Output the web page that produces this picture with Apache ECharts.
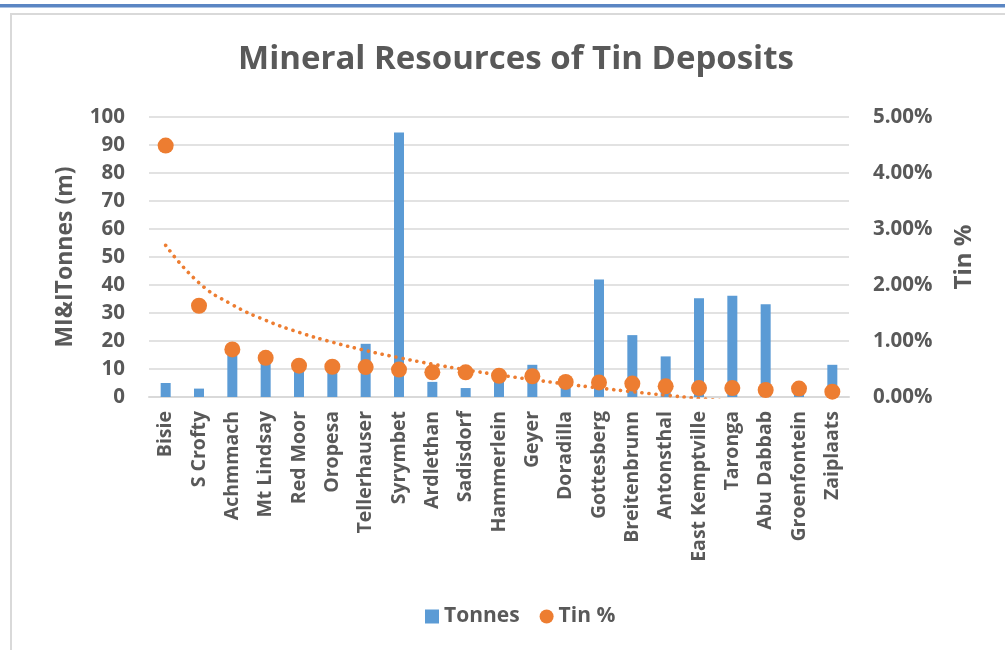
<!DOCTYPE html>
<html>
<head>
<meta charset="utf-8">
<script src="https://cdn.jsdelivr.net/npm/echarts@6/dist/echarts.min.js"></script>
<style>
html,body{margin:0;padding:0;background:#fff;}
#chart{width:1005px;height:650px;}
</style>
</head>
<body>
<div id="chart"></div>
<script>
const categories = ['Bisie','S Crofty','Achmmach','Mt Lindsay','Red Moor','Oropesa','Tellerhauser','Syrymbet','Ardlethan','Sadisdorf','Hammerlein','Geyer','Doradilla','Gottesberg','Breitenbrunn','Antonsthal','East Kemptville','Taronga','Abu Dabbab','Groenfontein','Zaiplaats'];
const tonnes = [5.0, 3.0, 15.0, 13.0, 10.5, 10.0, 19.0, 94.5, 5.4, 3.2, 7.0, 11.5, 5.0, 42.0, 22.1, 14.5, 35.3, 36.2, 33.1, 1.5, 11.5];
const tinPct = [4.49, 1.63, 0.85, 0.70, 0.56, 0.54, 0.535, 0.49, 0.44, 0.44, 0.38, 0.37, 0.27, 0.26, 0.24, 0.19, 0.16, 0.16, 0.125, 0.15, 0.095];
const leftTicks = {min: 0, max: 100, interval: 10};
const rightTicks = {min: 0, max: 5, interval: 1};

// Logarithmic trendline (least squares y = a*ln(x) + b), like the spreadsheet trendline
function logTrend(ys) {
  const n = ys.length;
  const lx = ys.map((_, i) => Math.log(i + 1));
  const mx = lx.reduce((s, v) => s + v, 0) / n;
  const my = ys.reduce((s, v) => s + v, 0) / n;
  let sxy = 0, sxx = 0;
  for (let i = 0; i < n; i++) { sxy += (lx[i] - mx) * ys[i]; sxx += (lx[i] - mx) * (lx[i] - mx); }
  const a = sxy / sxx, b = my - a * mx;
  return lx.map(v => a * v + b);
}
const trend = logTrend(tinPct);

const FONT = '"Open Sans", Lato, sans-serif';
const GREY = '#595959';
const chart = echarts.init(document.getElementById('chart'), null, {renderer: 'canvas'});
chart.setOption({
  animation: false,
  backgroundColor: '#ffffff',
  textStyle: {fontFamily: FONT},
  graphic: [
    {type: 'rect', shape: {x: 0, y: 4, width: 1005, height: 3.5}, style: {fill: '#5B86C3'}, silent: true},
    {type: 'rect', shape: {x: 11, y: 14, width: 1010, height: 660}, style: {fill: 'none', stroke: '#D9D9D9', lineWidth: 2}, silent: true}
  ],
  title: {
    text: 'Mineral Resources of Tin Deposits',
    left: 511, top: 38, textAlign: 'center',
    textStyle: {fontFamily: FONT, fontWeight: 'bold', fontSize: 33, color: GREY}
  },
  legend: {
    data: [{name: 'Tonnes', icon: 'rect'}, {name: 'Tin %', icon: 'circle'}],
    left: 420, top: 601,
    itemWidth: 14, itemHeight: 14, itemGap: 20,
    textStyle: {fontFamily: FONT, fontWeight: 'bold', fontSize: 21, color: GREY}
  },
  grid: {left: 149, right: 156, top: 117, bottom: 253, containLabel: false},
  xAxis: {
    type: 'category', data: categories,
    axisLine: {lineStyle: {color: '#D9D9D9', width: 2}},
    axisTick: {show: false},
    axisLabel: {rotate: 90, interval: 0, margin: 14, fontFamily: FONT, fontWeight: 'bold', fontSize: 19.5, color: GREY}
  },
  yAxis: [
    {
      type: 'value', min: leftTicks.min, max: leftTicks.max, interval: leftTicks.interval,
      name: 'MI&ITonnes (m)', nameLocation: 'middle', nameRotate: 90, nameGap: 72,
      nameTextStyle: {fontFamily: FONT, fontWeight: 'bold', fontSize: 23, color: GREY, verticalAlign: 'bottom'},
      axisLine: {show: false}, axisTick: {show: false},
      axisLabel: {margin: 24, fontFamily: FONT, fontWeight: 'bold', fontSize: 20.5, color: GREY},
      splitLine: {lineStyle: {color: '#D9D9D9', width: 1.5}}
    },
    {
      type: 'value', min: rightTicks.min, max: rightTicks.max, interval: rightTicks.interval,
      name: 'Tin %', nameLocation: 'middle', nameRotate: 90, nameGap: 103,
      nameTextStyle: {fontFamily: FONT, fontWeight: 'bold', fontSize: 24, color: GREY, verticalAlign: 'top'},
      axisLine: {show: false}, axisTick: {show: false},
      axisLabel: {margin: 24, fontFamily: FONT, fontWeight: 'bold', fontSize: 20.5, color: GREY, formatter: v => v.toFixed(2) + '%'},
      splitLine: {show: false}
    }
  ],
  series: [
    {
      name: 'Tonnes', type: 'bar', data: tonnes, yAxisIndex: 0,
      barWidth: 10, itemStyle: {color: '#5B9BD5'}
    },
    {
      name: 'Trend', type: 'line', data: trend, yAxisIndex: 1,
      smooth: true, symbol: 'none', clip: true, z: 3,
      lineStyle: {color: '#ED7D31', width: 3.6, type: [0.1, 7], cap: 'round'}
    },
    {
      name: 'Tin %', type: 'scatter', data: tinPct, yAxisIndex: 1,
      symbolSize: 16, itemStyle: {color: '#ED7D31', opacity: 1}, z: 4
    }
  ]
});
</script>
</body>
</html>
